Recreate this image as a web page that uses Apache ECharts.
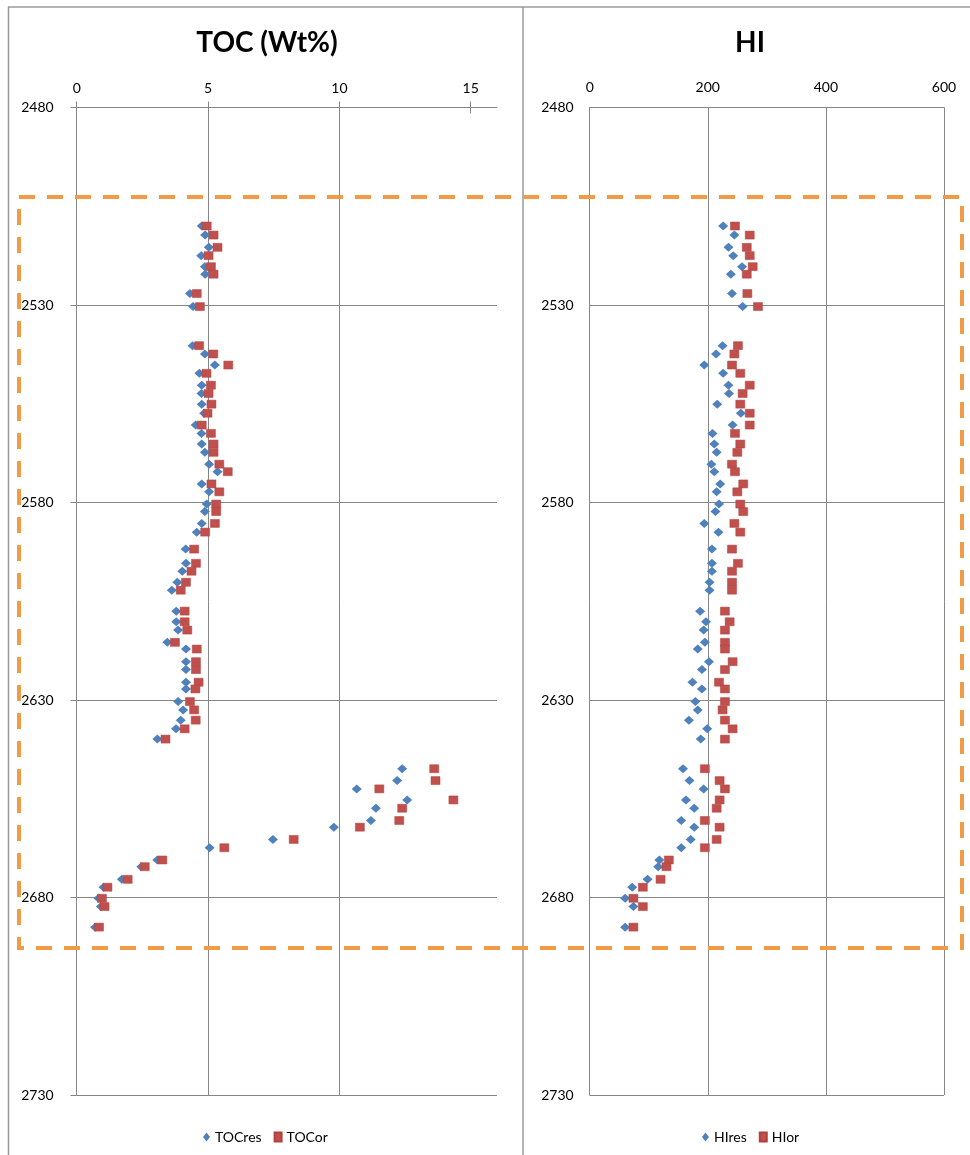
<!DOCTYPE html>
<html>
<head>
<meta charset="utf-8">
<script src="https://cdn.jsdelivr.net/npm/echarts@6/dist/echarts.min.js"></script>
<style>
  html, body { margin: 0; padding: 0; background: #ffffff; }
  #chart { width: 970px; height: 1155px; }
</style>
</head>
<body>
<div id="chart"></div>
<script>
// Sample depths (m) shared by both logs
const depth = [2510.0, 2512.3, 2515.4, 2517.5, 2520.3, 2522.2, 2527.1, 2530.4, 2540.3, 2542.4,
  2545.2, 2547.3, 2550.3, 2552.4, 2555.1, 2557.4, 2560.4, 2562.5, 2565.2, 2567.3,
  2570.3, 2572.2, 2575.3, 2577.3, 2580.4, 2582.3, 2585.3, 2587.5, 2591.8, 2595.4,
  2597.4, 2600.2, 2602.2, 2607.5, 2610.2, 2612.3, 2615.4, 2617.1, 2620.3, 2622.3,
  2625.5, 2627.2, 2630.4, 2632.5, 2635.1, 2637.3, 2639.9, 2647.4, 2650.4, 2652.5,
  2655.3, 2657.4, 2660.5, 2662.2, 2665.3, 2667.4, 2670.5, 2672.2, 2675.4, 2677.4,
  2680.2, 2682.3, 2687.5];

// Residual and original TOC (wt%)
const tocRes = [4.76, 4.89, 5.03, 4.74, 4.88, 4.89, 4.31, 4.43, 4.41, 4.88,
  5.26, 4.67, 4.76, 4.75, 4.76, 4.85, 4.53, 4.75, 4.76, 4.88,
  5.04, 5.36, 4.76, 5.04, 4.95, 4.88, 4.76, 4.57, 4.15, 4.16,
  4.02, 3.83, 3.62, 3.79, 3.79, 3.86, 3.45, 4.16, 4.16, 4.16,
  4.16, 4.16, 3.86, 4.05, 3.96, 3.78, 3.07, 12.39, 12.20, 10.66,
  12.58, 11.39, 11.20, 9.79, 7.47, 5.06, 3.07, 2.46, 1.72, 1.02,
  0.83, 0.92, 0.70];
const tocOr = [4.95, 5.21, 5.36, 5.02, 5.11, 5.21, 4.57, 4.69, 4.66, 5.20,
  5.77, 4.94, 5.11, 5.02, 5.13, 4.98, 4.76, 5.11, 5.21, 5.21,
  5.43, 5.75, 5.13, 5.43, 5.31, 5.31, 5.26, 4.89, 4.47, 4.54,
  4.37, 4.16, 3.96, 4.11, 4.11, 4.21, 3.74, 4.57, 4.54, 4.54,
  4.64, 4.52, 4.31, 4.47, 4.53, 4.11, 3.38, 13.61, 13.66, 11.52,
  14.34, 12.39, 12.28, 10.78, 8.26, 5.62, 3.26, 2.59, 1.94, 1.17,
  0.96, 1.06, 0.85];

// Residual and original hydrogen index
const hiRes = [226, 245, 235, 243, 258, 239, 241, 259, 225, 214,
  194, 226, 235, 236, 216, 256, 242, 208, 211, 215,
  206, 211, 221, 215, 219, 213, 194, 218, 207, 207,
  207, 203, 203, 187, 197, 193, 195, 183, 202, 190,
  174, 190, 179, 183, 168, 199, 188, 158, 169, 193,
  163, 177, 155, 177, 171, 155, 118, 116, 98, 72,
  60, 74, 60];
const hiOr = [246, 271, 266, 271, 276, 266, 267, 285, 251, 245,
  241, 255, 271, 259, 255, 271, 271, 246, 255, 250,
  241, 246, 260, 250, 255, 260, 245, 255, 241, 251,
  241, 241, 241, 229, 237, 229, 229, 229, 242, 229,
  219, 229, 229, 225, 229, 242, 229, 195, 220, 229,
  220, 215, 195, 220, 215, 195, 134, 130, 120, 90,
  74, 90, 74];

// Axis ticks
const tocTicks = [0, 5, 10, 15];
const depthMin = 2480, depthMax = 2730, depthStep = 50;

const FONT = 'Lato, "Open Sans", sans-serif';
const GRID_COLOR = '#868686';
const BLUE = '#4F81BD';
const RED = '#C0504D';

const pairs = (vals) => vals.map((v, i) => [v, depth[i]]);
const plain = (v) => String(v);

const labelStyle = { color: '#000', fontSize: 14, fontFamily: FONT, formatter: plain };

const chart = echarts.init(document.getElementById('chart'), null, { renderer: 'canvas' });

chart.setOption({
  backgroundColor: '#ffffff',
  animation: false,
  grid: [
    { left: 76.7, top: 107.5, width: 420.3, height: 987.5 },
    { left: 589.7, top: 107.5, width: 354.3, height: 987.5 }
  ],
  xAxis: [
    { // TOC scale, outward ticks + labels
      gridIndex: 0, type: 'value', position: 'top', min: 0, max: 16, interval: 5,
      axisLine: { show: true, lineStyle: { color: GRID_COLOR, width: 1 } },
      axisTick: { show: true, inside: false, length: 6, customValues: tocTicks,
        lineStyle: { color: GRID_COLOR } },
      axisLabel: Object.assign({ margin: 12, customValues: tocTicks }, labelStyle),
      splitLine: { show: true, showMinLine: false, showMaxLine: false,
        lineStyle: { color: GRID_COLOR, width: 1 } }
    },
    { // TOC scale, inward half of the cross ticks
      gridIndex: 0, type: 'value', position: 'top', min: 0, max: 16, interval: 5,
      axisLine: { show: false },
      axisTick: { show: true, inside: true, length: 6, customValues: tocTicks,
        lineStyle: { color: GRID_COLOR } },
      axisLabel: { show: false },
      splitLine: { show: false }
    },
    { // HI scale
      gridIndex: 1, type: 'value', position: 'top', min: 0, max: 600, interval: 200,
      axisLine: { show: true, lineStyle: { color: GRID_COLOR, width: 1 } },
      axisTick: { show: false },
      axisLabel: Object.assign({ margin: 13 }, labelStyle),
      splitLine: { show: true, showMinLine: false, lineStyle: { color: GRID_COLOR, width: 1 } }
    }
  ],
  yAxis: [
    {
      gridIndex: 0, type: 'value', inverse: true,
      min: depthMin, max: depthMax, interval: depthStep,
      axisLine: { show: true, lineStyle: { color: GRID_COLOR, width: 1 } },
      axisTick: { show: true, inside: false, length: 6, lineStyle: { color: GRID_COLOR } },
      axisLabel: Object.assign({ margin: 23 }, labelStyle),
      splitLine: { show: true, showMinLine: false, lineStyle: { color: GRID_COLOR, width: 1 } }
    },
    {
      gridIndex: 0, type: 'value', inverse: true,
      min: depthMin, max: depthMax, interval: depthStep,
      axisLine: { show: false },
      axisTick: { show: true, inside: true, length: 6, lineStyle: { color: GRID_COLOR } },
      axisLabel: { show: false },
      splitLine: { show: false }
    },
    {
      gridIndex: 1, type: 'value', inverse: true,
      min: depthMin, max: depthMax, interval: depthStep,
      axisLine: { show: true, lineStyle: { color: GRID_COLOR, width: 1 } },
      axisTick: { show: false },
      axisLabel: Object.assign({ margin: 16 }, labelStyle),
      splitLine: { show: true, showMinLine: false, lineStyle: { color: GRID_COLOR, width: 1 } }
    }
  ],
  legend: [
    {
      data: ['TOCres', 'TOCor'], left: 198, top: 1125,
      itemWidth: 7, itemHeight: 9, itemGap: 12,
      textStyle: { color: '#000', fontSize: 14, fontFamily: FONT }
    },
    {
      data: ['HIres', 'HIor'], left: 697, top: 1125,
      itemWidth: 7, itemHeight: 9, itemGap: 12,
      textStyle: { color: '#000', fontSize: 14, fontFamily: FONT }
    }
  ],
  series: [
    {
      name: 'TOCres', type: 'scatter', xAxisIndex: 0, yAxisIndex: 0,
      symbol: 'diamond', symbolSize: [10, 9],
      itemStyle: { color: BLUE, opacity: 1 }, data: pairs(tocRes), z: 2
    },
    {
      name: 'TOCor', type: 'scatter', xAxisIndex: 0, yAxisIndex: 0,
      symbol: 'rect', symbolSize: [9, 8],
      itemStyle: { color: RED, borderColor: '#B3403D', borderWidth: 0.5, opacity: 1 },
      data: pairs(tocOr), z: 3
    },
    {
      name: 'HIres', type: 'scatter', xAxisIndex: 2, yAxisIndex: 2,
      symbol: 'diamond', symbolSize: [10, 9],
      itemStyle: { color: BLUE, opacity: 1 }, data: pairs(hiRes), z: 2
    },
    {
      name: 'HIor', type: 'scatter', xAxisIndex: 2, yAxisIndex: 2,
      symbol: 'rect', symbolSize: [9, 8],
      itemStyle: { color: RED, borderColor: '#B3403D', borderWidth: 0.5, opacity: 1 },
      data: pairs(hiOr), z: 3
    }
  ],
  graphic: [
    // chart frames
    { type: 'line', shape: { x1: 8, y1: 7, x2: 970, y2: 7 },
      style: { stroke: '#9a9a9a', lineWidth: 1.5 }, silent: true },
    { type: 'line', shape: { x1: 8.5, y1: 7, x2: 8.5, y2: 1155 },
      style: { stroke: '#9a9a9a', lineWidth: 1.5 }, silent: true },
    { type: 'line', shape: { x1: 523, y1: 7, x2: 523, y2: 1155 },
      style: { stroke: '#9a9a9a', lineWidth: 1.5 }, silent: true },
    // panel titles
    { type: 'text', x: 267, y: 43,
      style: { text: 'TOC (Wt%)', fill: '#000', font: 'bold 28px ' + FONT,
        textAlign: 'center', textVerticalAlign: 'middle' }, silent: true },
    { type: 'text', x: 750, y: 43,
      style: { text: 'HI', fill: '#000', font: 'bold 28px ' + FONT,
        textAlign: 'center', textVerticalAlign: 'middle' }, silent: true },
    // highlighted interval
    { type: 'rect', z: 100, silent: true,
      shape: { x: 19, y: 197, width: 943, height: 751 },
      style: { fill: null, stroke: '#F29B46', lineWidth: 4, lineDash: [16, 12] } }
  ]
});
</script>
</body>
</html>
